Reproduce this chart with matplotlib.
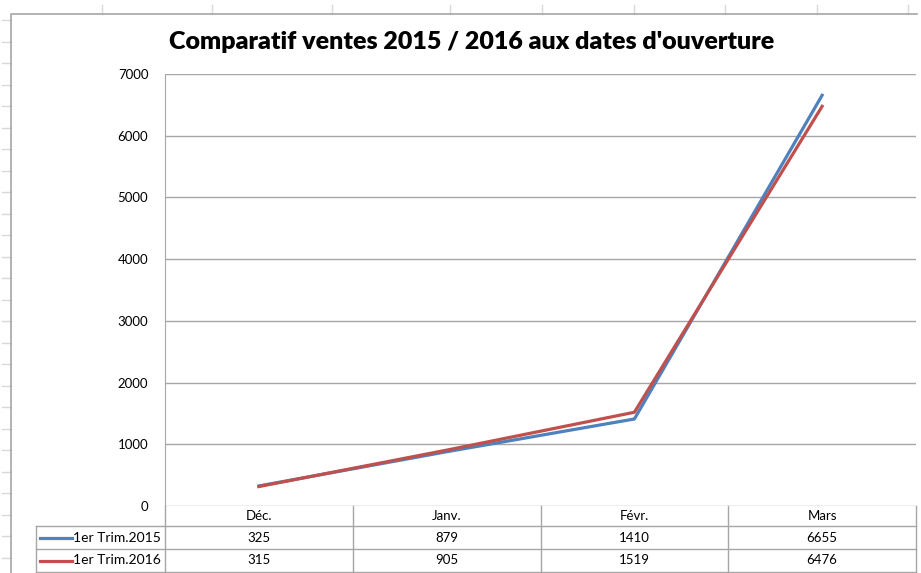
import numpy as np
import matplotlib.pyplot as plt
from matplotlib.transforms import blended_transform_factory

# Data
categories = ['Déc.', 'Janv.', 'Févr.', 'Mars']
series_names = ['1er Trim.2015', '1er Trim.2016']
ventes_2015 = [325, 879, 1410, 6655]
ventes_2016 = [315, 905, 1519, 6476]
y_ticks = [0, 1000, 2000, 3000, 4000, 5000, 6000, 7000]
colors = ['#4F81BD', '#C0504D']

W, H = 921, 573
plt.rcParams['font.family'] = ['Lato', 'DejaVu Sans']
fig = plt.figure(figsize=(W / 100, H / 100), dpi=100)

# background overlay in pixel coordinates (spreadsheet + chart frame + table)
bg = fig.add_axes([0, 0, 1, 1], zorder=0)
bg.set_xlim(0, W)
bg.set_ylim(H, 0)
bg.axis('off')

# spreadsheet grid ticks showing around the chart
for yy in np.arange(20, H, 21.5):
    bg.plot([2, 11], [yy, yy], color='#d9d9d9', lw=1)
for xx in [102, 212, 332, 450, 542, 634, 725, 817, 908]:
    bg.plot([xx, xx], [5, 14], color='#d9d9d9', lw=1)
# chart frame
bg.plot([11, 11, 917], [H, 14, 14], color='#a6a6a6', lw=1.2)

# plot area
left, right, top, bottom = 165, 916, 74, 506
ax = fig.add_axes([left / W, 1 - bottom / H, (right - left) / W, (bottom - top) / H], zorder=1)
ax.patch.set_alpha(0)
x = np.arange(len(categories))
for vals, c in zip([ventes_2015, ventes_2016], colors):
    ax.plot(x, vals, color=c, lw=2.3, solid_joinstyle='round')
ax.set_xlim(-0.5, len(categories) - 0.5)
ax.set_ylim(0, 7000)
ax.set_yticks(y_ticks)
ax.set_yticklabels([str(t) for t in y_ticks], fontsize=9.5)
ax.tick_params(axis='y', length=0, pad=12)
ax.set_xticks([])
ax.grid(axis='y', color='#a6a6a6', lw=1)
for s in ['top', 'right', 'bottom']:
    ax.spines[s].set_visible(False)
ax.spines['left'].set_color('#a6a6a6')
ax.set_axisbelow(True)

fig.text(472 / W, 1 - 42 / H, "Comparatif ventes 2015 / 2016 aux dates d'ouverture",
         ha='center', va='center', fontsize=18, fontweight='heavy')

# data table below the plot
tr = blended_transform_factory(ax.transData, bg.transData)
gc = '#a6a6a6'
rows_y = [506, 526, 549, 572]
# horizontal lines
bg.plot([left, right], [rows_y[1], rows_y[1]], color=gc, lw=1)
for yy in rows_y[2:]:
    bg.plot([36, right], [yy, yy], color=gc, lw=1)
bg.plot([36, 36], [rows_y[1], rows_y[3]], color=gc, lw=1)
bg.plot([36, left], [rows_y[1], rows_y[1]], color=gc, lw=1)
for b in np.arange(len(categories) + 1) - 0.5:
    ax.plot([b, b], [rows_y[0], rows_y[3]], color=gc, lw=1, transform=tr, clip_on=False)

for i, cat in enumerate(categories):
    ax.text(i, (rows_y[0] + rows_y[1]) / 2, cat, transform=tr, ha='center', va='center', fontsize=9.5)
for r, (name, vals, c) in enumerate(zip(series_names, [ventes_2015, ventes_2016], colors)):
    yc = (rows_y[r + 1] + rows_y[r + 2]) / 2
    bg.plot([40, 72], [yc, yc], color=c, lw=2.3)
    bg.text(73, yc, name, ha='left', va='center', fontsize=10)
    for i, v in enumerate(vals):
        ax.text(i, yc, str(v), transform=tr, ha='center', va='center', fontsize=9.5)

fig.savefig('out.png', dpi=100)
